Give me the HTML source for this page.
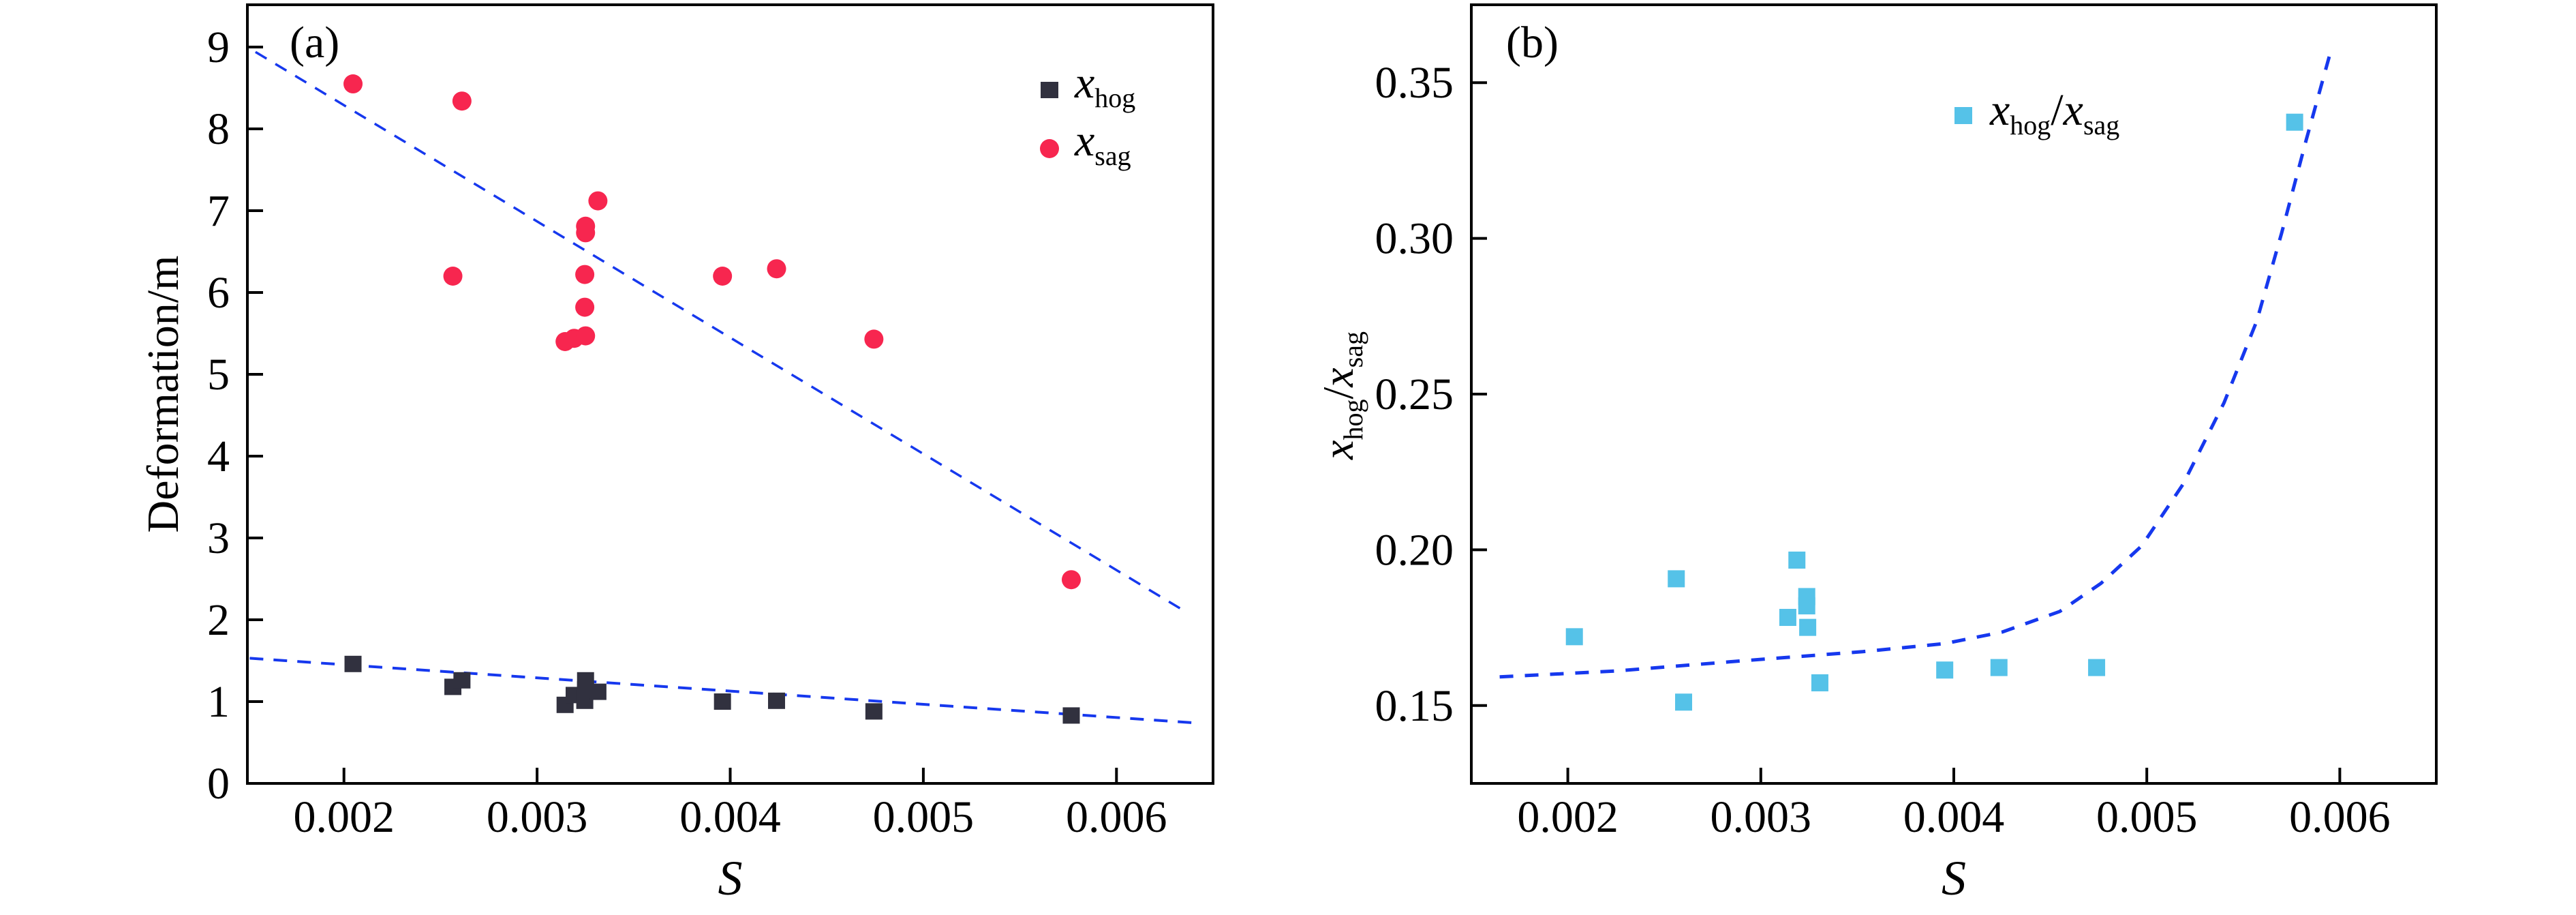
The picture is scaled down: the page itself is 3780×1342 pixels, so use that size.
<!DOCTYPE html>
<html><head><meta charset="utf-8"><style>
html,body{margin:0;padding:0;background:#fff;}
svg{display:block;font-family:"Liberation Serif",serif;}
</style></head><body>
<svg id="fig" width="3780" height="1342" viewBox="0 0 3780 1342" xmlns="http://www.w3.org/2000/svg"></svg>
<script>
// ---- data ----
const sagS = [0.002047,0.002611,0.002564,0.003315,0.003251,0.003251,0.003247,0.003247,0.003145,0.003192,0.003251,0.00396,0.00424,0.004744,0.005766];
const sagVal = [8.55,8.34,6.20,7.12,6.81,6.73,6.22,5.82,5.40,5.44,5.47,6.20,6.29,5.43,2.49];
const hogS = [0.002047,0.002564,0.002611,0.003145,0.003192,0.003251,0.003247,0.003315,0.003251,0.00396,0.00424,0.004744,0.005766];
const hogVal = [1.46,1.18,1.26,0.96,1.08,1.26,1.01,1.12,1.15,1.00,1.01,0.88,0.83];
const sagFitS = [0.001542,0.006343];
const sagFitVal = [8.94,2.12];
const hogFitS = [0.001512,0.006406];
const hogFitVal = [1.53,0.74];
const ratioS = [0.002034,0.002562,0.0026,0.00314,0.003187,0.003238,0.003238,0.003243,0.003306,0.003953,0.004234,0.00474,0.005766];
const ratioVal = [0.1721,0.1907,0.1511,0.1783,0.1967,0.1850,0.1820,0.1751,0.1573,0.1614,0.1622,0.1622,0.3373];
const ratioFitS = [0.001647,0.002251,0.002889,0.003528,0.003953,0.004251,0.004549,0.004762,0.004974,0.005187,0.0054,0.00557,0.005698,0.005826,0.005953];
const ratioFitVal = [0.1592,0.1611,0.1643,0.1673,0.1699,0.1736,0.1802,0.1892,0.2013,0.2210,0.2472,0.2735,0.3016,0.3316,0.3601];
const xTicks = [0.002,0.003,0.004,0.005,0.006];
const xTickLabels = ["0.002","0.003","0.004","0.005","0.006"];
const aYTicks = [0,1,2,3,4,5,6,7,8,9];
const aYTickLabels = ["0","1","2","3","4","5","6","7","8","9"];
const bYTicks = [0.15,0.20,0.25,0.30,0.35];
const bYTickLabels = ["0.15","0.20","0.25","0.30","0.35"];

const NS = "http://www.w3.org/2000/svg";
const svg = document.getElementById('fig');
function mk(tag, attrs, parent){const e=document.createElementNS(NS,tag);for(const k in attrs)e.setAttribute(k,attrs[k]);(parent||svg).appendChild(e);return e;}

function panel(L,R,T,B,xd,yd){
  return {x:v=>L+(v-xd[0])/(xd[1]-xd[0])*(R-L), y:v=>B-(v-yd[0])/(yd[1]-yd[0])*(B-T), L,R,T,B};
}
const pa = panel(363,1780,7,1149,[0.0015,0.0065],[0,9.5167]);
const pb = panel(2159,3575,7,1149,[0.0015,0.0065],[0.125,0.375]);

function axes(p, yT, yL, name){
  const g = mk('g',{});
  
  
  const f = mk('rect',{x:p.L,y:p.T,width:p.R-p.L,height:p.B-p.T,fill:'none',stroke:'#000','stroke-width':4},g);
  
  
  xTicks.forEach((v,i)=>{
    const X=p.x(v);
    mk('line',{x1:X,x2:X,y1:p.B,y2:p.B-23,stroke:'#000','stroke-width':4},g);
    const t=mk('text',{x:X,y:1220,'font-size':66,'text-anchor':'middle'},g);
    t.textContent=xTickLabels[i];
    
    
  });
  yT.forEach((v,i)=>{
    const Y=p.y(v);
    mk('line',{x1:p.L,x2:p.L+23,y1:Y,y2:Y,stroke:'#000','stroke-width':4},g);
    const t=mk('text',{x:p.L-26,y:Y+22,'font-size':66,'text-anchor':'end'},g);
    t.textContent=yL[i];
    
    
  });
  const s=mk('text',{x:(p.L+p.R)/2,y:1312,'font-size':72,'font-style':'italic','text-anchor':'middle'},g);
  s.textContent='S';
  
  
}
axes(pa,aYTicks,aYTickLabels,'panel-a');
axes(pb,bYTicks,bYTickLabels,'panel-b');

// panel labels
let t = mk('text',{x:425,y:84,'font-size':66}); t.textContent='(a)';
 
t = mk('text',{x:2210,y:84,'font-size':66}); t.textContent='(b)';
 

// y titles
t = mk('text',{x:0,y:0,'font-size':66,'text-anchor':'middle',transform:'translate(261,578) rotate(-90)'});
t.textContent='Deformation/m';
 
t = mk('text',{x:0,y:0,'font-size':64,'text-anchor':'middle',transform:'translate(1985,580) rotate(-90)'});
t.innerHTML='<tspan font-style="italic">x</tspan><tspan font-size="40" dy="14">hog</tspan><tspan dy="-14">/</tspan><tspan font-style="italic">x</tspan><tspan font-size="40" dy="14">sag</tspan>';
 

// fit lines
function fitLine(p,xs,ys,name,w,dash){
  let d='';
  xs.forEach((v,i)=>{d+=(i?'L':'M')+p.x(v).toFixed(1)+','+p.y(ys[i]).toFixed(1);});
  const e=mk('path',{d,fill:'none',stroke:'#1638ee','stroke-width':w,'stroke-dasharray':dash});
  
  
}
fitLine(pa,sagFitS,sagFitVal,'sag-trend-line',3.5,'19 15');
fitLine(pa,hogFitS,hogFitVal,'hog-trend-line',4,'20 15');
fitLine(pb,ratioFitS,ratioFitVal,'ratio-fit-curve',5,'20 17');

// points
sagS.forEach((v,i)=>{
  const c=mk('circle',{cx:pa.x(v),cy:pa.y(sagVal[i]),r:14,fill:'#f7264f'});
  
  
});
hogS.forEach((v,i)=>{
  const r=mk('rect',{x:pa.x(v)-12.5,y:pa.y(hogVal[i])-12,width:25,height:24,fill:'#31313f'});
  
  
});
ratioS.forEach((v,i)=>{
  const r=mk('rect',{x:pb.x(v)-12.5,y:pb.y(ratioVal[i])-12.5,width:25,height:25,fill:'#55c2e8'});
  
  
});

// legends
let lg = mk('g',{});
 
let e = mk('rect',{x:1527,y:120,width:26,height:24,fill:'#31313f'},lg);
 
e = mk('text',{x:1577,y:143,'font-size':66},lg);
e.innerHTML='<tspan font-style="italic">x</tspan><tspan font-size="40" dy="14">hog</tspan>';
 
e = mk('circle',{cx:1540,cy:218,r:14,fill:'#f7264f'},lg);
 
e = mk('text',{x:1577,y:228,'font-size':66},lg);
e.innerHTML='<tspan font-style="italic">x</tspan><tspan font-size="40" dy="14">sag</tspan>';
 

lg = mk('g',{});
 
e = mk('rect',{x:2868,y:157,width:26,height:25,fill:'#55c2e8'},lg);
 
e = mk('text',{x:2920,y:183,'font-size':66},lg);
e.innerHTML='<tspan font-style="italic">x</tspan><tspan font-size="40" dy="14">hog</tspan><tspan dy="-14">/</tspan><tspan font-style="italic">x</tspan><tspan font-size="40" dy="14">sag</tspan>';
 
</script>
</body></html>
